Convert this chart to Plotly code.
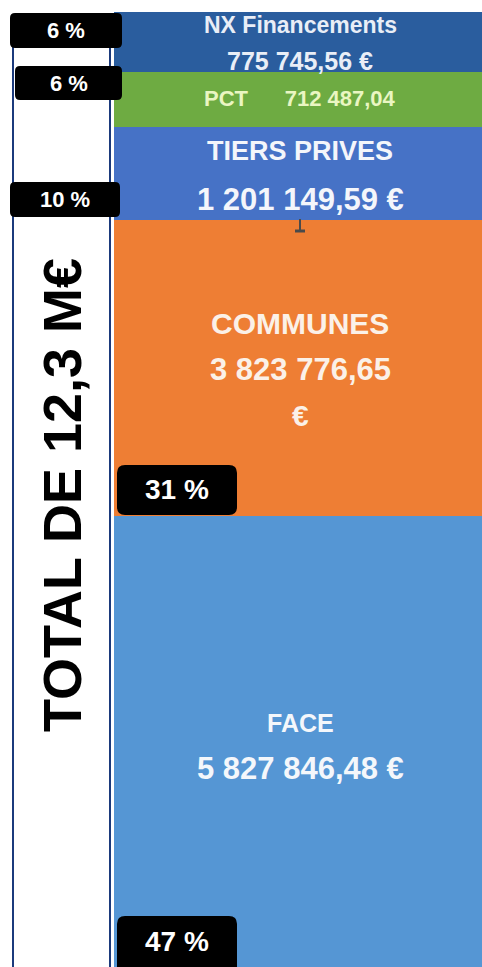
import plotly.graph_objects as go

# ---------------- data ----------------
categories = ["FACE", "COMMUNES", "TIERS PRIVES", "PCT", "NX Financements"]
values = [5827846.48, 3823776.65, 1201149.59, 712487.04, 775745.56]
label_lines = [
    ["FACE", "5 827 846,48 €"],
    ["COMMUNES", "3 823 776,65", "€"],
    ["TIERS PRIVES", "1 201 149,59 €"],
    ["PCT\u00a0\u00a0\u00a0\u00a0\u00a0\u00a0712 487,04"],
    ["NX Financements", "775 745,56 €"],
]
total_label = "TOTAL DE 12,3 M€"

# ---------------- style ----------------
bar_colors = ["#5596d4", "#ee7e34", "#4672c6", "#6eab42", "#2a5d9e"]
text_colors = ["#f4f7fb", "#fbf1e8", "#f4f6fb", "#eaf6c2", "#e9eef7"]
line_sizes = [[25, 31], [30, 31, 30], [27, 31], [22], [23, 25]]
line_shifts = [[19, -27], [45, -1, -47], [23, -26], [1], [17, -19]]
pct_boxes = [  # pixel boxes x0, y0, x1, y1, font size, radius
    (117, 916, 237, 975, 28, 8),
    (117, 465, 237, 515, 28, 8),
    (10, 182, 120, 217, 22, 5),
    (15, 66, 122, 100, 22, 5),
    (10, 13, 122, 48, 22, 5),
]

W, H, TOP = 482, 967, 12
PH = H - TOP
FONT = "Liberation Sans, Arial, sans-serif"


def px(x):
    return x / W


def py(y):
    return (H - y) / PH


def rrect(x0, y0, x1, y1, r):
    pts = [
        ("M", [(x0 + r, y0)]),
        ("L", [(x1 - r, y0)]),
        ("Q", [(x1, y0), (x1, y0 + r)]),
        ("L", [(x1, y1 - r)]),
        ("Q", [(x1, y1), (x1 - r, y1)]),
        ("L", [(x0 + r, y1)]),
        ("Q", [(x0, y1), (x0, y1 - r)]),
        ("L", [(x0, y0 + r)]),
        ("Q", [(x0, y0), (x0 + r, y0)]),
    ]
    s = ""
    for cmd, ps in pts:
        s += cmd + " " + " ".join(f"{px(a):.5f},{py(b):.5f}" for a, b in ps) + " "
    return s + "Z"


total = sum(values)

fig = go.Figure()
for cat, v, col in zip(categories, values, bar_colors):
    fig.add_trace(go.Bar(
        x=[0], y=[v], name=cat, width=1,
        marker=dict(color=col, line=dict(width=0)),
        hoverinfo="skip", showlegend=False,
    ))

shapes = []
annotations = []

# left framed box with vertical total
shapes.append(dict(type="rect", xref="paper", yref="paper",
                   x0=px(13), x1=px(110), y0=py(990), y1=py(30),
                   line=dict(color="#1b3a7c", width=2), fillcolor="white", layer="above"))
annotations.append(dict(xref="paper", yref="paper", x=px(62), y=py(495),
                        text=total_label, textangle=-90, showarrow=False,
                        font=dict(family=FONT, size=54, color="black", weight="bold"),
                        xanchor="center", yanchor="middle"))

# in-bar labels
cum = 0
for v, lines, sizes, shifts, tc in zip(values, label_lines, line_sizes, line_shifts, text_colors):
    mid = cum + v / 2
    cum += v
    for t, s, sh in zip(lines, sizes, shifts):
        annotations.append(dict(xref="x", yref="y", x=0, y=mid, xshift=2, yshift=sh,
                                text=t, showarrow=False,
                                font=dict(family=FONT, size=s, color=tc, weight="bold"),
                                xanchor="center", yanchor="middle"))

# percentage badges
for v, (x0, y0, x1, y1, fs, r) in zip(values, pct_boxes):
    shapes.append(dict(type="path", xref="paper", yref="paper",
                       path=rrect(x0, y0, x1, y1, r), fillcolor="black",
                       line=dict(width=0), layer="above"))
    yc = (y0 + min(y1, H)) / 2
    annotations.append(dict(xref="paper", yref="paper", x=px((x0 + x1) / 2), y=py(yc),
                            text=f"{round(v / total * 100)} %", showarrow=False,
                            font=dict(family=FONT, size=fs, color="white", weight="bold"),
                            xanchor="center", yanchor="middle"))

# small pin marker at top of COMMUNES segment
shapes.append(dict(type="line", xref="paper", yref="paper",
                   x0=px(300), x1=px(300), y0=py(219), y1=py(230),
                   line=dict(color="#4a4a4a", width=2), layer="above"))
shapes.append(dict(type="line", xref="paper", yref="paper",
                   x0=px(295), x1=px(305), y0=py(231), y1=py(231),
                   line=dict(color="#4a4a4a", width=3), layer="above"))

fig.update_layout(
    width=W, height=H, autosize=False,
    margin=dict(l=0, r=0, t=TOP, b=0, pad=0),
    barmode="stack", bargap=0,
    paper_bgcolor="white", plot_bgcolor="white",
    xaxis=dict(domain=[px(114), 1], range=[-0.5, 0.5], visible=False, fixedrange=True),
    yaxis=dict(range=[0, total], visible=False, fixedrange=True),
    shapes=shapes, annotations=annotations,
)

fig.write_html(
    "out.html",
    config={"displayModeBar": False},
    post_script="document.body.style.margin='0';document.body.style.overflow='hidden';",
)
